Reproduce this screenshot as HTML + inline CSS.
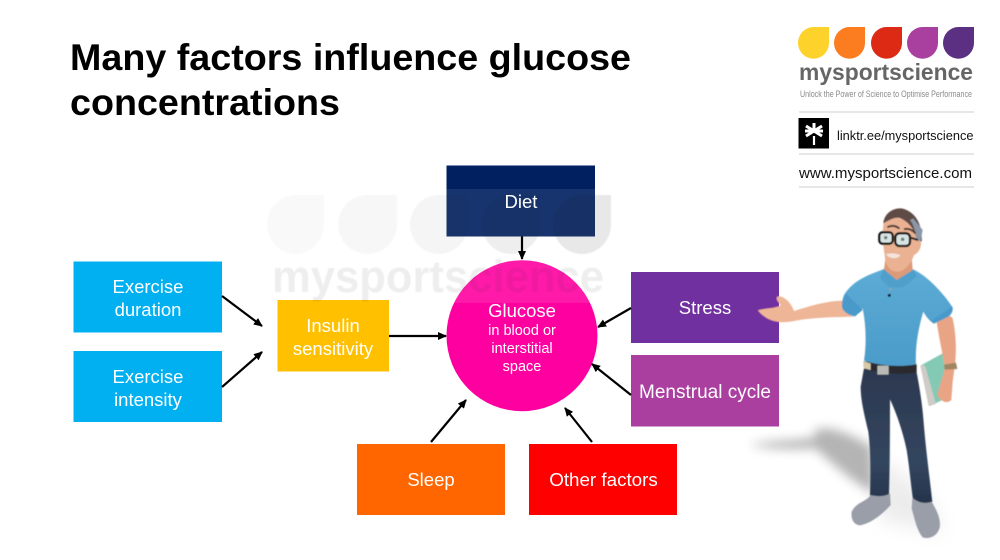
<!DOCTYPE html>
<html><head><meta charset="utf-8"><style>
html,body{margin:0;padding:0;background:#fff;width:1000px;height:560px;overflow:hidden}
svg{display:block}
text{font-family:"Liberation Sans",sans-serif}
.w{fill:#fff;font-size:18.5px;text-anchor:middle}
</style></head><body>
<svg width="1000" height="560" viewBox="0 0 1000 560" xmlns="http://www.w3.org/2000/svg">
<defs>
<filter id="b1" x="-10%" y="-10%" width="120%" height="120%"><feGaussianBlur stdDeviation="1.800"/></filter>
<filter id="b6" x="-30%" y="-30%" width="160%" height="160%"><feGaussianBlur stdDeviation="16"/></filter>
<filter id="b9" x="-30%" y="-30%" width="160%" height="160%"><feGaussianBlur stdDeviation="28"/></filter>
<filter id="s" x="-5%" y="-5%" width="110%" height="110%"><feGaussianBlur stdDeviation="0.450"/></filter>
<linearGradient id="sh" x1="0" y1="0" x2="0" y2="1"><stop offset="0" stop-color="#5cabd6"/><stop offset="1" stop-color="#4b9cc9"/></linearGradient>
<linearGradient id="tr" x1="0" y1="0" x2="0" y2="1"><stop offset="0" stop-color="#2c3850"/><stop offset=".7" stop-color="#33465f"/><stop offset="1" stop-color="#25334b"/></linearGradient>
<marker id="a" markerWidth="9" markerHeight="8" refX="8" refY="4" orient="auto" markerUnits="userSpaceOnUse"><path d="M0 0L9 4L0 8Z" fill="#000"/></marker>
</defs>
<text x="70" y="70" font-size="37" font-weight="700" textLength="561" lengthAdjust="spacingAndGlyphs">Many factors influence glucose</text>
<text x="70" y="115" font-size="37" font-weight="700" textLength="270" lengthAdjust="spacingAndGlyphs">concentrations</text>

<rect x="73.5" y="261.5" width="148.5" height="71" fill="#00b0f0"/>
<rect x="73.5" y="351" width="148.5" height="71" fill="#00b0f0"/>
<rect x="277.5" y="300" width="111.5" height="71.5" fill="#ffc000"/>
<rect x="446.5" y="165.5" width="148.5" height="71" fill="#002060"/>
<circle cx="522" cy="335.7" r="75.5" fill="#ff00a0"/>
<rect x="631" y="272" width="148" height="71" fill="#7030a0"/>
<rect x="631" y="355" width="148" height="71.5" fill="#ab3fa0"/>
<rect x="357" y="444" width="148" height="71" fill="#ff6600"/>
<rect x="529" y="444" width="148" height="71" fill="#ff0000"/>

<g stroke="#000" stroke-width="2.200" fill="none">
<path d="M522 236.5V259" marker-end="url(#a)"/>
<path d="M389 336H446" marker-end="url(#a)"/>
<path d="M222 296L262 326" marker-end="url(#a)"/>
<path d="M222 387L262 352" marker-end="url(#a)"/>
<path d="M631 308L598 327" marker-end="url(#a)"/>
<path d="M631 395L592 364" marker-end="url(#a)"/>
<path d="M431 442L466 400" marker-end="url(#a)"/>
<path d="M592 442L565 408" marker-end="url(#a)"/>
</g>

<!-- watermark -->
<g fill="#000" filter="url(#s)">
<path d="M324 195V224.500A28.500 29.500 0 0 1 267 224.500A29 29.500 0 0 1 296 195Z" opacity=".025"/>
<path d="M397 195V224.500A29.500 29.500 0 0 1 338 224.500A29.500 29.500 0 0 1 368 195Z" opacity=".03"/>
<path d="M468 195V224.500A29 29.500 0 0 1 410 224.500A29 29.500 0 0 1 439 195Z" opacity=".04"/>
<path d="M540 195V224.500A29 29.500 0 0 1 482 224.500A29 29.500 0 0 1 511 195Z" opacity=".065"/>
<path d="M611 195V224.500A29 29.500 0 0 1 553 224.500A29 29.500 0 0 1 582 195Z" opacity=".09"/>
<text x="272" y="292" font-size="45" font-weight="700" textLength="332" lengthAdjust="spacingAndGlyphs" opacity=".065">mysportscience</text>
</g>
<rect x="446.5" y="189" width="148.500" height="47.500" fill="#fff" opacity="0.09"/>
<path d="M454 303A75.500 75.500 0 0 1 590 303Z" fill="#fff" opacity="0.1"/>

<text class="w" x="148" y="293">Exercise</text>
<text class="w" x="148" y="316">duration</text>
<text class="w" x="148" y="383">Exercise</text>
<text class="w" x="148" y="406">intensity</text>
<text class="w" x="333" y="332">Insulin</text>
<text class="w" x="333" y="355">sensitivity</text>
<text class="w" x="521" y="208">Diet</text>
<text class="w" x="522" y="317">Glucose</text>
<text class="w" x="522" y="335" style="font-size:14.500px">in blood or</text>
<text class="w" x="522" y="353" style="font-size:14.500px">interstitial</text>
<text class="w" x="522" y="371" style="font-size:14.500px">space</text>
<text class="w" x="705" y="314">Stress</text>
<text class="w" x="705" y="398" style="font-size:19px">Menstrual cycle</text>
<text class="w" x="431" y="486">Sleep</text>
<text class="w" x="603.500" y="486" style="font-size:18.800px">Other factors</text>

<!-- logo -->
<path d="M829 27V43A15.500 15.700 0 0 1 798 43A15.500 16 0 0 1 813.500 27Z" fill="#fdd32b"/>
<path d="M865 27V43A15.500 15.700 0 0 1 834 43A15.500 16 0 0 1 849.500 27Z" fill="#fb7d20"/>
<path d="M902 27V43A15.500 15.700 0 0 1 871 43A15.500 16 0 0 1 886.500 27Z" fill="#dd2a15"/>
<path d="M938 27V43A15.500 15.700 0 0 1 907 43A15.500 16 0 0 1 922.500 27Z" fill="#a93f9f"/>
<path d="M974 27V43A15.500 15.700 0 0 1 943 43A15.500 16 0 0 1 958.500 27Z" fill="#5b2f81"/>
<text x="799" y="80" font-size="23.500" font-weight="700" fill="#666" textLength="174" lengthAdjust="spacingAndGlyphs">mysportscience</text>
<text x="800" y="97" font-size="9.500" fill="#8a8a8a" textLength="172" lengthAdjust="spacingAndGlyphs">Unlock the Power of Science to Optimise Performance</text>
<g fill="#cfcfcf">
<rect x="799" y="111.500" width="175" height="1"/>
<rect x="799" y="153.500" width="175" height="1"/>
<rect x="799" y="186.500" width="175" height="1"/>
</g>
<rect x="798.500" y="118" width="30.500" height="30.500" fill="#000"/>
<g stroke="#fff" stroke-width="3" fill="none">
<path d="M814 123V131M806 126L822 136M822 126L806 136M805 131H823"/>
<path d="M814 136V145" stroke-width="2.200"/>
</g>
<text x="837" y="140" font-size="13" fill="#111" textLength="136.500" lengthAdjust="spacingAndGlyphs">linktr.ee/mysportscience</text>
<text x="799" y="178" font-size="15" fill="#111" textLength="173" lengthAdjust="spacingAndGlyphs">www.mysportscience.com</text>

<!-- figure -->
<g transform="translate(740 200) scale(.33333)">
<path d="M30 733C90 722 170 722 225 712L225 690C265 675 330 700 395 740L405 880C340 850 280 790 225 745C160 748 80 748 30 733Z" fill="#777" opacity=".55" filter="url(#b6)"/>
<path d="M400 760L560 880L610 1000L420 960Z" fill="#999" opacity=".18" filter="url(#b9)"/>
<g filter="url(#b1)">
<!-- book -->
<path d="M541 497L608 460L628 590L570 618Z" fill="#84c9b4"/>
<path d="M541 497C548 493 552 495 556 500L588 612L566 618Z" fill="#cfcbc6"/>
<!-- far arm -->
<path d="M590 365C600 350 630 340 638 355C648 400 650 450 645 495L638 545L634 600C625 610 605 610 592 585C598 555 610 530 614 500C606 450 596 410 590 365Z" fill="#e8a484"/>
<path d="M612 494L648 488L652 507L614 509Z" fill="#a08660"/>
<!-- pointing arm -->
<path d="M53 331C75 323 100 326 122 316C115 306 105 298 112 289C130 287 152 305 162 333C210 318 262 302 312 302L340 350C280 352 220 352 168 362C130 370 85 372 53 331Z" fill="#eeb596"/>
<!-- trousers -->
<path d="M372 505L530 518C540 570 548 620 552 680C560 770 570 840 577 906C560 914 535 912 520 905C512 850 508 800 500 750C490 700 470 640 450 598C450 680 450 790 447 884C430 892 405 892 390 888C392 820 392 750 385 695C372 640 362 600 362 560Z" fill="url(#tr)"/>
<!-- shoes -->
<path d="M392 885C410 890 435 890 450 880L452 915C430 940 395 970 360 976C340 975 332 955 335 935C350 905 380 905 392 885Z" fill="#9a9ea8"/>
<path d="M517 893C535 910 560 912 575 905C585 925 600 945 600 975C598 1005 570 1020 548 1012C530 990 525 960 515 925Z" fill="#9a9ea8"/>
<!-- belt -->
<path d="M370 484L530 493V518C480 525 420 520 372 505Z" fill="#2b2b2d"/>
<path d="M370 484L392 490V510L372 505Z" fill="#d8c9a8"/>
<rect x="412" y="497" width="34" height="27" rx="2" fill="#b9b9b5"/>
<!-- shirt -->
<path d="M432 207L520 208C565 230 610 280 638 322C640 335 632 345 625 350L582 371C570 365 558 350 550 335C535 385 525 440 528 493C480 502 420 498 372 482C380 430 378 375 368 325L345 349C330 345 315 340 307 325C305 310 307 298 312 285C340 240 385 225 432 207Z" fill="url(#sh)"/>
<path d="M318 280L368 330L345 349C330 345 315 340 307 325C305 310 307 298 318 280Z" fill="#4a9acb"/>
<path d="M575 362L636 320C640 335 632 345 625 350L582 371Z" fill="#4a9acb"/>
<path d="M420 235L448 262L490 262L532 228L518 208L432 205Z" fill="#4f9fcc"/>
<circle cx="448" cy="286" r="4.500" fill="#111"/>
<circle cx="452" cy="268" r="4" fill="#8fa3a8"/>
<!-- neck & head -->
<path d="M436 178L515 170L518 210L470 240L432 208Z" fill="#dd9a78"/>
<path d="M432 62C470 40 525 60 538 112C550 130 540 158 522 165C512 195 490 218 468 215C445 212 436 190 434 165C428 130 426 95 432 62Z" fill="#eab193"/>
<path d="M430 70C432 35 470 18 495 28C528 40 548 75 545 125L530 118C525 88 505 65 480 54C462 50 445 62 430 70Z" fill="#5e4c44"/>
<path d="M520 55L548 90L542 122H530C526 95 522 75 510 60Z" fill="#8b97a8"/>
<path d="M442 82C455 74 470 78 478 86M492 88C505 84 518 90 526 100" stroke="#4a3a32" stroke-width="6" fill="none"/>
<rect x="418" y="97" width="40" height="34" rx="10" fill="#d8e3e3" stroke="#111" stroke-width="7"/>
<rect x="466" y="100" width="44" height="38" rx="12" fill="#d8e3e3" stroke="#111" stroke-width="7"/>
<path d="M508 112L534 120" stroke="#222" stroke-width="6" fill="none"/>
<circle cx="437" cy="113" r="5" fill="#5d7a74"/><circle cx="488" cy="118" r="5" fill="#5d7a74"/>
<path d="M438 163C452 158 470 160 482 166C470 178 450 178 438 163Z" fill="#f2e6dc"/>
</g>
</g>
</svg>
</body></html>
